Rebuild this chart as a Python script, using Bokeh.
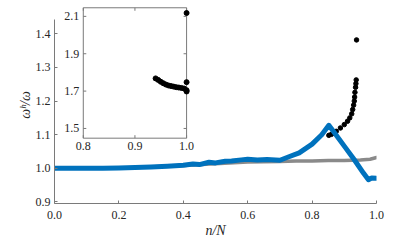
import math
from bokeh.plotting import figure
from bokeh.models import Range1d, FixedTicker, PrintfTickFormatter
from bokeh.core.properties import value
from bokeh.embed import file_html
from bokeh.resources import INLINE

# ---- data ----
blue_x = [0.00, 0.05, 0.10, 0.15, 0.20, 0.25, 0.30, 0.35, 0.40, 0.43, 0.45, 0.48, 0.50,
          0.53, 0.55, 0.58, 0.60, 0.63, 0.66, 0.70, 0.73, 0.76, 0.80, 0.83, 0.852,
          0.87, 0.90, 0.93, 0.96, 0.975, 0.985, 1.00]
blue_y = [1.000, 1.000, 1.000, 1.000, 1.001, 1.002, 1.004, 1.006, 1.009, 1.013, 1.011, 1.018, 1.016,
          1.021, 1.022, 1.025, 1.027, 1.025, 1.026, 1.024, 1.035, 1.046, 1.072, 1.100, 1.128,
          1.105, 1.066, 1.027, 0.985, 0.966, 0.971, 0.970]

gray_x = [0.00, 0.20, 0.40, 0.60, 0.70, 0.75, 0.80, 0.85, 0.90, 0.95, 0.98, 1.00]
gray_y = [1.000, 1.000, 1.008, 1.019, 1.020, 1.022, 1.022, 1.023, 1.023, 1.025, 1.027, 1.032]

black_x = [0.852, 0.860, 0.867, 0.875, 0.888, 0.900, 0.910, 0.917, 0.923, 0.926, 0.929,
           0.931, 0.932, 0.933, 0.935, 0.936, 0.937, 0.938]
black_y = [1.098, 1.101, 1.105, 1.110, 1.120, 1.130, 1.140, 1.150, 1.162, 1.175, 1.188,
           1.200, 1.212, 1.226, 1.241, 1.252, 1.263, 1.382]

inset_x = [0.940, 0.945, 0.950, 0.955, 0.960, 0.965, 0.970, 0.975, 0.980, 0.985, 0.990,
           0.995, 1.000, 1.000, 1.000, 1.000]
inset_y = [1.768, 1.760, 1.750, 1.742, 1.735, 1.730, 1.727, 1.724, 1.721, 1.719, 1.717,
           1.714, 1.705, 1.698, 1.748, 2.118]

main_xticks = [0.0, 0.2, 0.4, 0.6, 0.8, 1.0]
main_yticks = [0.9, 1.0, 1.1, 1.2, 1.3, 1.4]
inset_xticks = [0.8, 0.9, 1.0]
inset_yticks = [1.5, 1.7, 1.9, 2.1]
inset_xlabels = ["0.8", "0.9", "1.0"]
inset_ylabels = ["1.5", "1.7", "1.9", "2.1"]

# ranges / layout
MAIN_X = (0.0, 1.0)
MAIN_Y = (0.8952, 1.4815)
MAIN_Y_AXIS = (0.8952, 1.443)
INSET_X = (0.8, 1.0)
INSET_Y = (1.448, 2.146)
INSET_TX = (0.0894, 0.4102)     # where the inset sits in main-axis units
INSET_TY = (1.0896, 1.4777)

FONT = "Liberation Serif"
FS = "12px"
AXC = "#7a7a7a"
TXT = "#262626"

# ---- main figure ----
p = figure(width=415, height=243, output_backend="svg", toolbar_location=None,
           x_range=Range1d(*MAIN_X), y_range=Range1d(*MAIN_Y),
           min_border_left=54, min_border_right=39, min_border_top=6, min_border_bottom=40)
p.outline_line_color = None
p.xgrid.grid_line_color = None
p.ygrid.grid_line_color = None
for ax, ticks in ((p.xaxis[0], main_xticks), (p.yaxis[0], main_yticks)):
    ax.ticker = FixedTicker(ticks=ticks)
    ax.formatter = PrintfTickFormatter(format="%.1f")
    ax.axis_line_color = AXC
    ax.major_tick_line_color = AXC
    ax.major_tick_in = 3
    ax.major_tick_out = 0
    ax.minor_tick_line_color = None
    ax.major_label_text_font = FONT
    ax.major_label_text_color = TXT
    ax.major_label_text_font_size = FS
    ax.axis_label_text_font = FONT
    ax.axis_label_text_font_size = "14px"
    ax.axis_label_text_font_style = "italic"
    ax.axis_label_text_color = TXT
p.yaxis.bounds = MAIN_Y_AXIS
p.xaxis.major_label_standoff = 7
p.yaxis.major_label_standoff = 4
p.xaxis.axis_label_standoff = 1
p.yaxis.axis_label_standoff = 0
p.xaxis.axis_label = "n/N"
p.yaxis.axis_label = "ωʰ/ω"

p.line(gray_x, gray_y, line_color="#8a8a8a", line_width=3.5, line_join="round", line_cap="round")
p.scatter(black_x, black_y, size=4.5, color="black")
p.line(blue_x, blue_y, line_color="#0072BD", line_width=5, line_join="round", line_cap="round")

# ---- inset (sub-coordinates of the main plot) ----
s = p.subplot(x_source=Range1d(*INSET_X), y_source=Range1d(*INSET_Y),
              x_target=Range1d(*INSET_TX), y_target=Range1d(*INSET_TY))
s.quad(left=[INSET_X[0]], right=[INSET_X[1]], bottom=[INSET_Y[0]], top=[INSET_Y[1]],
       fill_color="white", line_color=AXC, line_width=1)
# inward ticks (bottom/top and left/right)
s.ray(x=inset_xticks, y=[INSET_Y[0]] * 3, length=3, length_units="screen",
      angle=math.pi / 2, line_color=AXC)
s.ray(x=inset_xticks, y=[INSET_Y[1]] * 3, length=3, length_units="screen",
      angle=-math.pi / 2, line_color=AXC)
s.ray(x=[INSET_X[0]] * 4, y=inset_yticks, length=3, length_units="screen",
      angle=0, line_color=AXC)
s.ray(x=[INSET_X[1]] * 4, y=inset_yticks, length=3, length_units="screen",
      angle=math.pi, line_color=AXC)
s.text(x=inset_xticks, y=[INSET_Y[0]] * 3, text=inset_xlabels, y_offset=4,
       text_align="center", text_baseline="top", text_font=value(FONT),
       text_font_size=FS, text_color=TXT)
s.text(x=[INSET_X[0]] * 4, y=inset_yticks, text=inset_ylabels, x_offset=-4,
       text_align="right", text_baseline="middle", text_font=value(FONT),
       text_font_size=FS, text_color=TXT)
s.scatter(inset_x, inset_y, size=5, color="black")

open("out.html", "w").write(file_html(p, INLINE))
